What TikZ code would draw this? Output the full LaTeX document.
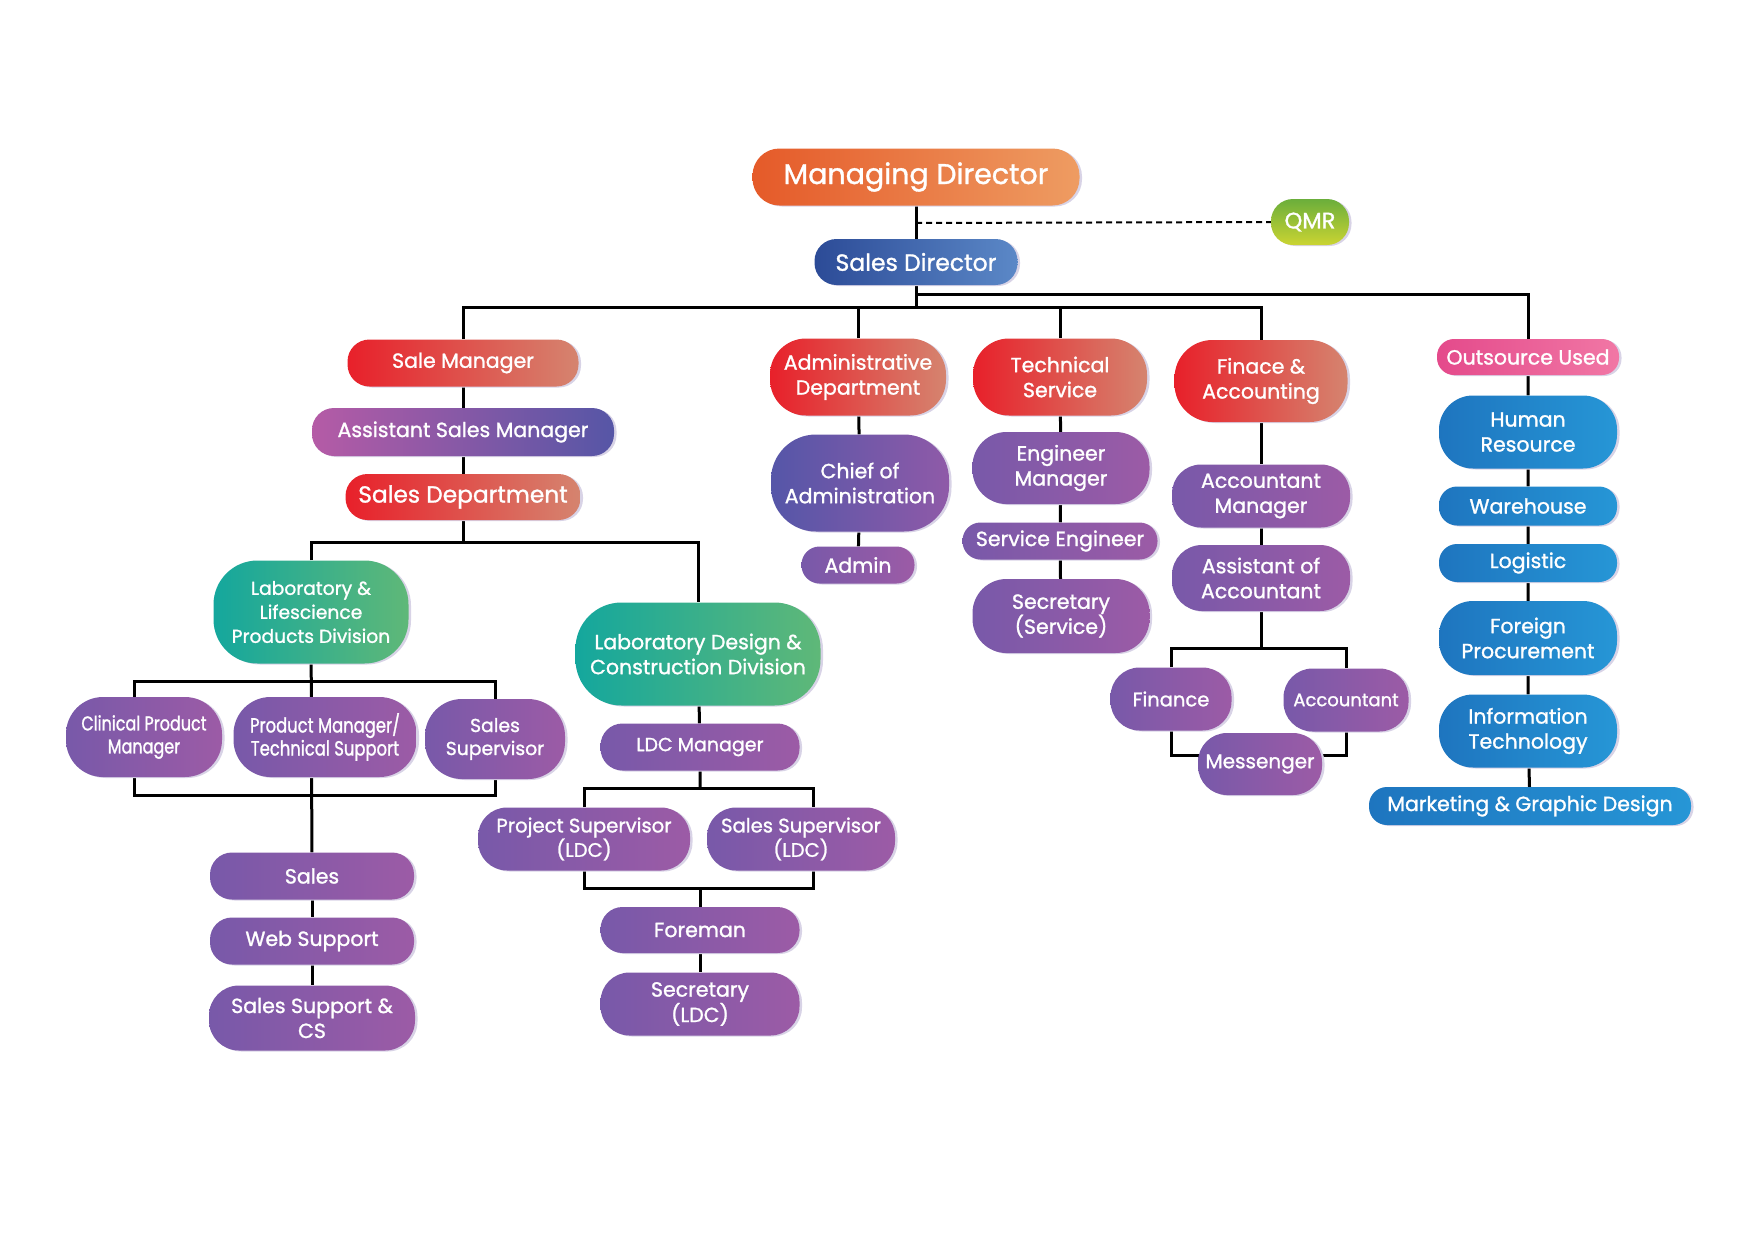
\documentclass[tikz,border=0pt]{standalone}
\usepackage{fontspec}
\setmainfont{Poppins}[FakeBold=1.2]
\newfontfamily\narrowfont{Poppins}[FakeBold=1.2, FakeStretch=0.8]
\usepackage{tikz}
\usetikzlibrary{shadows}
\usetikzlibrary{calc}
\pgfdeclarelayer{back}
\pgfsetlayers{back,main}
\definecolor{mdL}{HTML}{E55A29}
\definecolor{mdR}{HTML}{EE9C62}
\definecolor{redL}{HTML}{E8202A}
\definecolor{redR}{HTML}{D5846F}
\definecolor{sdL}{HTML}{2C4B97}
\definecolor{sdR}{HTML}{5B88C7}
\definecolor{qmrT}{HTML}{6BAE3B}
\definecolor{qmrB}{HTML}{CAD432}
\definecolor{purL}{HTML}{7859A9}
\definecolor{purR}{HTML}{9C5BA6}
\definecolor{asmL}{HTML}{B55BA6}
\definecolor{asmR}{HTML}{5656A6}
\definecolor{chfL}{HTML}{5556A8}
\definecolor{chfR}{HTML}{8F5AA8}
\definecolor{grnL}{HTML}{14A79D}
\definecolor{grnR}{HTML}{5FB878}
\definecolor{bluL}{HTML}{1E75BF}
\definecolor{bluR}{HTML}{2696D6}
\definecolor{pnkL}{HTML}{E44A8B}
\definecolor{pnkR}{HTML}{F177A5}
\definecolor{halo}{HTML}{D8D3E6}
\tikzstyle{pill}=[rectangle, rounded corners=18pt, inner sep=0pt, text=white, align=center,
  general shadow={fill=halo, shadow xshift=2.5pt, shadow yshift=-1pt},
  font=\fontsize{20.5}{25}\selectfont]
\tikzstyle{orangepill}=[pill, left color=mdL, right color=mdR]
\tikzstyle{redpill}=[pill, left color=redL, right color=redR]
\tikzstyle{bluepill}=[pill, left color=sdL, right color=sdR]
\tikzstyle{greenpill}=[pill, left color=grnL, right color=grnR]
\tikzstyle{purplepill}=[pill, left color=purL, right color=purR]
\tikzstyle{skypill}=[pill, left color=bluL, right color=bluR]
\tikzstyle{link}=[line width=3pt]

\begin{document}
\begin{tikzpicture}[x=1pt,y=-1pt]
\useasboundingbox (0,0) rectangle (1754,1240);

\node[orangepill, minimum width=327, minimum height=57, rounded corners=27pt, font=\fontsize{28.5}{30}\selectfont] (md) at (916,177) {Managing Director};
\node[pill, top color=qmrT, bottom color=qmrB, minimum width=78, minimum height=46, rounded corners=22pt, font=\fontsize{22.5}{24}\selectfont] (qmr) at (1310,222) {QMR};
\node[bluepill, minimum width=203, minimum height=46, rounded corners=22pt, font=\fontsize{23.5}{26}\selectfont] (sd) at (916,262) {Sales Director};

\node[redpill, minimum width=231, minimum height=47, rounded corners=22pt] (salemgr) at (463,363) {Sale Manager};
\node[pill, left color=asmL, right color=asmR, minimum width=302, minimum height=48, rounded corners=22pt] (asstmgr) at (463,432) {Assistant Sales Manager};
\node[redpill, minimum width=235, minimum height=46, rounded corners=22pt, font=\fontsize{23.3}{26}\selectfont] (salesdept) at (463,497) {Sales Department};
\node[greenpill, minimum width=195, minimum height=103, rounded corners=44pt, font=\fontsize{18.7}{24}\selectfont] (lablife) at (311,612) {Laboratory \&\\Lifescience\\Products Division};
\node[greenpill, minimum width=245, minimum height=103, rounded corners=46pt] (labdesign) at (698,654) {Laboratory Design \&\\Construction Division};

\node[purplepill, minimum width=156, minimum height=80, rounded corners=37pt, font=\narrowfont\fontsize{20}{23}\selectfont] (clinical) at (144,737) {Clinical Product\\Manager};
\node[purplepill, minimum width=183, minimum height=80, rounded corners=37pt, font=\narrowfont\fontsize{20.5}{23}\selectfont] (prodmgr) at (325,737) {Product Manager/\\Technical Support};
\node[purplepill, minimum width=140, minimum height=80, rounded corners=37pt, font=\fontsize{18.8}{23}\selectfont] (salessup) at (495,739) {Sales\\Supervisor};
\node[purplepill, minimum width=204, minimum height=47, rounded corners=22pt] (sales) at (312,876) {Sales};
\node[purplepill, minimum width=204, minimum height=47, rounded corners=22pt] (websup) at (312,941) {Web Support};
\node[purplepill, minimum width=206, minimum height=65, rounded corners=30pt] (salescs) at (312,1018) {Sales Support \&\\CS};

\node[purplepill, minimum width=199, minimum height=47, rounded corners=22pt, font=\fontsize{19}{23}\selectfont] (ldcmgr) at (700,747) {LDC Manager};
\node[purplepill, minimum width=212, minimum height=63, rounded corners=29pt, font=\fontsize{19.6}{23}\selectfont] (projsup) at (584,839) {Project Supervisor\\(LDC)};
\node[purplepill, minimum width=188, minimum height=63, rounded corners=29pt, font=\fontsize{19.6}{23}\selectfont] (ldcsup) at (801,839) {Sales Supervisor\\(LDC)};
\node[purplepill, minimum width=199, minimum height=46, rounded corners=22pt] (foreman) at (700,930) {Foreman};
\node[purplepill, minimum width=199, minimum height=63, rounded corners=29pt, font=\fontsize{20.5}{23}\selectfont] (ldcsec) at (700,1004) {Secretary\\(LDC)};

\node[redpill, minimum width=176, minimum height=77, rounded corners=36pt] (admdept) at (858,377) {Administrative\\Department};
\node[pill, left color=chfL, right color=chfR, minimum width=178, minimum height=97, rounded corners=45pt] (chief) at (860,483) {Chief of\\Administration};
\node[purplepill, minimum width=113, minimum height=37, rounded corners=18pt] (admin) at (858,565) {Admin};

\node[redpill, minimum width=174, minimum height=77, rounded corners=36pt] (tech) at (1060,377) {Technical\\Service};
\node[purplepill, minimum width=177, minimum height=72, rounded corners=34pt] (engmgr) at (1061,468) {Engineer\\Manager};
\node[purplepill, minimum width=195, minimum height=37, rounded corners=18pt] (serveng) at (1060,541) {Service Engineer};
\node[purplepill, minimum width=177, minimum height=74, rounded corners=34pt] (servsec) at (1061,616) {Secretary\\(Service)};

\node[redpill, minimum width=173, minimum height=82, rounded corners=38pt] (finacc) at (1261,381) {Finace \&\\Accounting};
\node[purplepill, minimum width=178, minimum height=63, rounded corners=29pt] (acctmgr) at (1261,496) {Accountant\\Manager};
\node[purplepill, minimum width=178, minimum height=66, rounded corners=30pt] (asstacct) at (1261,578) {Assistant of\\Accountant};
\node[purplepill, minimum width=121, minimum height=63, rounded corners=29pt, font=\fontsize{19.5}{23}\selectfont] (finance) at (1171,699) {Finance};
\node[purplepill, minimum width=125, minimum height=63, rounded corners=29pt, font=\fontsize{18}{23}\selectfont] (accountant) at (1346,700) {Accountant};
\node[purplepill, minimum width=124, minimum height=62, rounded corners=29pt, font=\fontsize{20}{23}\selectfont] (messenger) at (1260,764) {Messenger};

\node[pill, left color=pnkL, right color=pnkR, minimum width=182, minimum height=36, rounded corners=17pt] (outsrc) at (1528,357) {Outsource Used};
\node[skypill, minimum width=178, minimum height=73, rounded corners=34pt] (hr) at (1528,432) {Human\\Resource};
\node[skypill, minimum width=178, minimum height=39, rounded corners=18pt] (wh) at (1528,506) {Warehouse};
\node[skypill, minimum width=178, minimum height=38, rounded corners=18pt] (logi) at (1528,563) {Logistic};
\node[skypill, minimum width=178, minimum height=74, rounded corners=34pt] (fp) at (1528,638) {Foreign\\Procurement};
\node[skypill, minimum width=178, minimum height=73, rounded corners=34pt] (it) at (1528,731) {Information\\Technology};
\node[skypill, minimum width=322, minimum height=38, rounded corners=18pt] (mkt) at (1530,806) {Marketing \& Graphic Design};

\coordinate (topbus) at (916,307);
\coordinate (outbus) at (916,294);
\coordinate (dashy) at (916,223);
\coordinate (sdbus) at (463,542);
\coordinate (llbus) at (311,681);
\coordinate (llbus2) at (311,795);
\coordinate (ldcbus) at (700,788);
\coordinate (ldcbus2) at (700,888);
\coordinate (fbus) at (1261,648);
\coordinate (msgy) at (1260,755);

\begin{pgfonlayer}{back}
\draw[link] (md) -- (sd);
\draw[line width=2pt, dash pattern=on 6pt off 4pt] (dashy) -- (qmr.west);
\draw[link] (sd) -- (topbus);
\draw[link] (salemgr.north) -- (salemgr.north |- topbus) -- (finacc.north |- topbus) -- (finacc.north);
\foreach \n in {admdept,tech}
  \draw[link] (\n.north) -- (\n.north |- topbus);
\draw[link] (outbus) -| (outsrc.north);
\draw[link] (salemgr) -- (asstmgr) -- (salesdept);
\draw[link] (salesdept) -- (sdbus);
\draw[link] (lablife.north) |- (labdesign.north |- sdbus) -- (labdesign.north);
\draw[link] (lablife) -- (sales);
\draw[link] ([xshift=-10pt]clinical.north) |- (salessup.north |- llbus) -- (salessup.north);
\draw[link] ([xshift=-10pt]clinical.south) |- (salessup.south |- llbus2) -- (salessup.south);
\draw[link] (sales) -- (websup) -- (salescs);
\draw[link] (labdesign) -- (ldcmgr) -- (ldcbus);
\draw[link] (projsup.north) |- ([xshift=12pt]ldcsup.north |- ldcbus) -- ([xshift=12pt]ldcsup.north);
\draw[link] (projsup.south) |- ([xshift=12pt]ldcsup.south |- ldcbus2) -- ([xshift=12pt]ldcsup.south);
\draw[link] (ldcbus2) -- (foreman) -- (ldcsec);
\draw[link] (admdept) -- (chief) -- (admin);
\draw[link] (tech) -- (engmgr) -- (serveng) -- (servsec);
\draw[link] (finacc) -- (acctmgr) -- (asstacct) -- (fbus);
\draw[link] (finance.north) |- (accountant.north |- fbus) -- (accountant.north);
\draw[link] (finance.south) |- (msgy) -| (accountant.south);
\draw[link] (outsrc) -- (hr) -- (wh) -- (logi) -- (fp) -- (it) -- (mkt);
\end{pgfonlayer}
\end{tikzpicture}
\end{document}
